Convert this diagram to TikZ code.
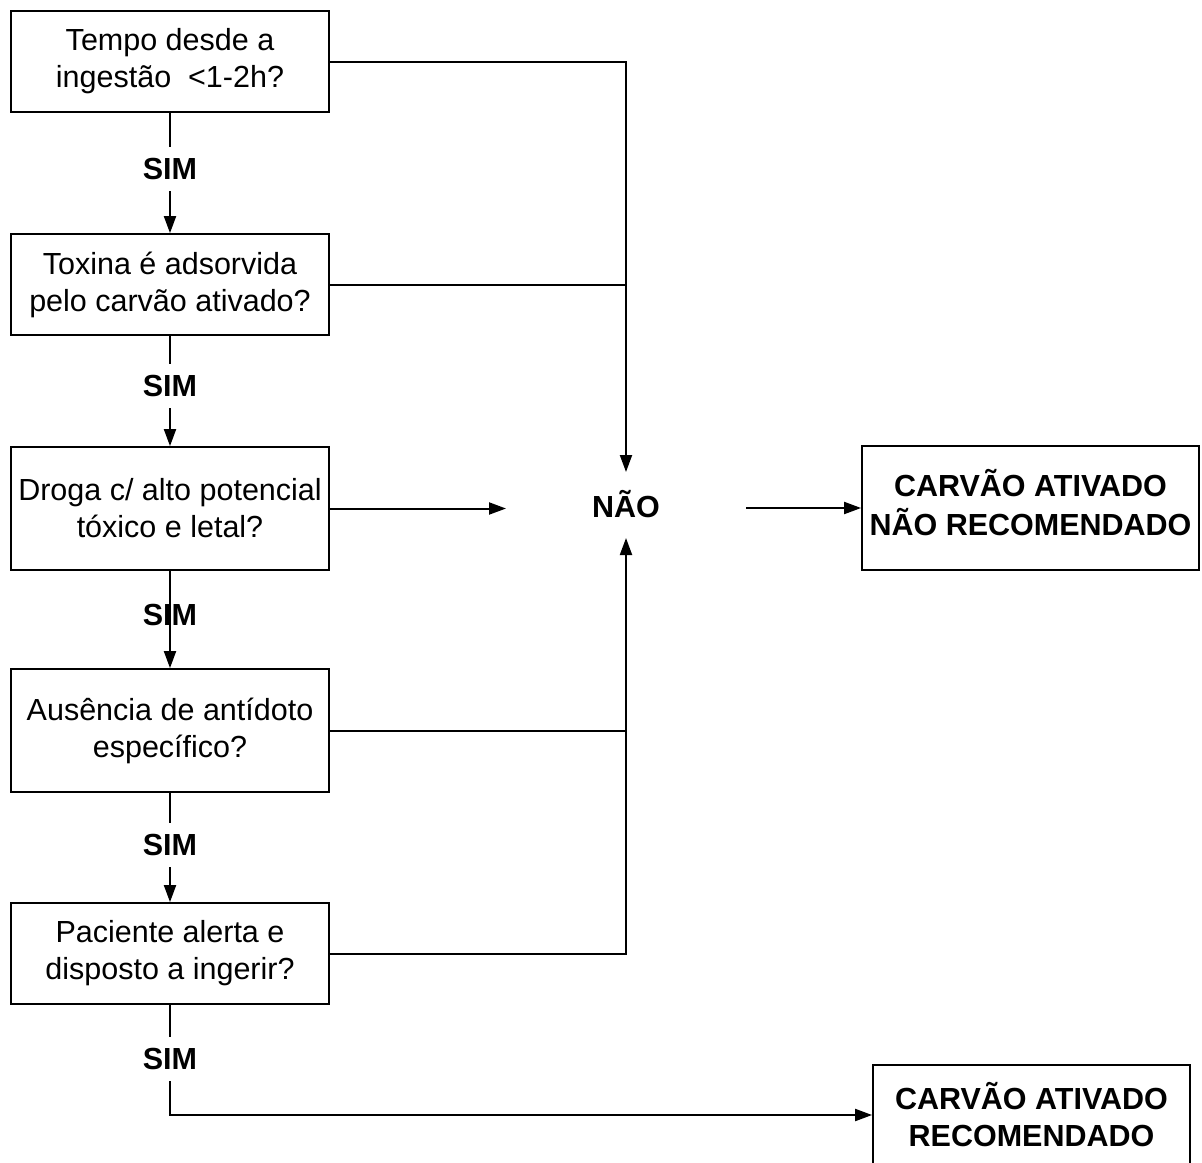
\documentclass[tikz,border=0pt]{standalone}
\usepackage{fontspec}
\setmainfont{Liberation Sans}
\usetikzlibrary{arrows.meta}
\begin{document}
\begin{tikzpicture}[x=1pt,y=-1pt,
  line width=2pt,
  >={Triangle[length=17pt,width=12pt]},
  qbox/.style={draw,line width=1.8pt,minimum width=318pt,align=center,inner sep=0pt,
    font=\fontsize{30.5}{37}\selectfont},
  endbox/.style={draw,line width=1.8pt,align=center,inner sep=0pt,
    font=\bfseries\fontsize{30.5}{37}\selectfont},
  lbl/.style={font=\bfseries\fontsize{30.5}{37}\selectfont,inner sep=0pt,minimum height=42pt},
]
\useasboundingbox (0,0) rectangle (1202,1162);
\clip (0,0) rectangle (1202,1162);

% question boxes
\node[qbox,minimum height=101pt] (q1) at (170,61.5) {Tempo desde a\\ingestão\ \ <1-2h?};
\node[qbox,minimum height=101pt] (q2) at (170,284.5) {Toxina é adsorvida\\pelo carvão ativado?};
\node[qbox,minimum height=123pt] (q3) at (170,508.5) {Droga c/ alto potencial\\tóxico e letal?};
\node[qbox,minimum height=123pt] (q4) at (170,730.5) {Ausência de antídoto\\específico?};
\node[qbox,minimum height=101pt] (q5) at (170,953.5) {Paciente alerta e\\disposto a ingerir?};

% outcomes
\node[endbox,minimum width=337pt,minimum height=124pt] (notrec) at (1030.5,508)
  {\raisebox{6pt}{\begin{tabular}{@{}c@{}}CARVÃO ATIVADO\\NÃO RECOMENDADO\end{tabular}}};
\node[endbox,minimum width=317pt,minimum height=100pt] (rec) at (1031.5,1115) {CARVÃO ATIVADO\\RECOMENDADO};

% NÃO hub
\node[font=\bfseries\fontsize{30.5}{37}\selectfont,minimum width=238pt,minimum height=64pt,inner sep=0pt] (nao) at (626,505) {\raisebox{3pt}{NÃO}};

% SIM labels
\node[lbl] (s1) at (170,169) {SIM};
\node[lbl] (s2) at (170,386) {SIM};
\node[lbl] (s3) at (170,615) {SIM};
\node[lbl] (s4) at (170,845) {SIM};
\node[lbl] (s5) at (170,1059) {SIM};

% SIM path
\draw (q1.south) -- (s1.north);
\draw[->] (s1.south) -- (q2.north);
\draw (q2.south) -- (s2.north);
\draw[->] (s2.south) -- (q3.north);
\draw[->] (q3.south) -- (q4.north);
\draw (q4.south) -- (s4.north);
\draw[->] (s4.south) -- (q5.north);
\draw (q5.south) -- (s5.north);
\draw[->] (s5.south) |- (rec.west);

% NÃO path
\draw[->] (q1.east |- 0,62) -| (nao.north);
\draw (q2.east) -- (q2.east -| nao.north);
\draw[->] (q3.east) -- (q3.east -| nao.west);
\draw (q4.east) -- (q4.east -| nao.south);
\draw[->] (q5.east) -| (nao.south);
\draw[->] (nao.east |- notrec.west) -- (notrec.west);
\end{tikzpicture}
\end{document}
